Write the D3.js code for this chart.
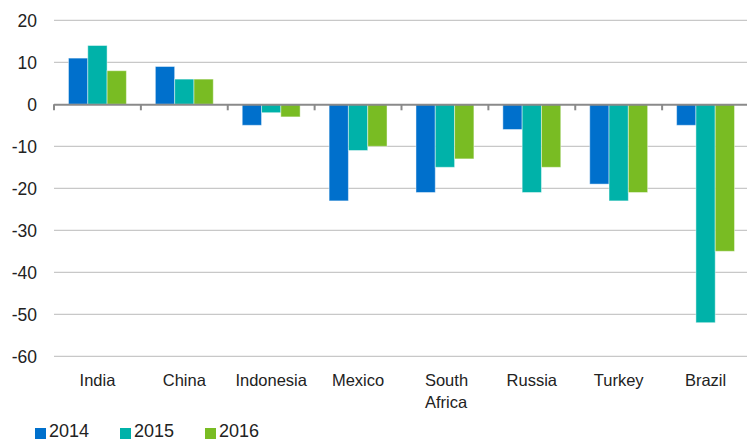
<!DOCTYPE html>
<html><head><meta charset="utf-8">
<script src="https://cdn.jsdelivr.net/npm/d3@7"></script>
<style>
body{margin:0;background:#fff;}
text{font-family:"Liberation Sans",Arial,Helvetica,sans-serif;fill:#222;}
</style></head>
<body><svg id="c" width="747" height="441"></svg>
<script>
const categories = ["India","China","Indonesia","Mexico","South\nAfrica","Russia","Turkey","Brazil"];
const seriesNames = ["2014","2015","2016"];
const values2014 = [11, 9, -5, -23, -21, -6, -19, -5];
const values2015 = [14, 6, -2, -11, -15, -21, -23, -52];
const values2016 = [8, 6, -3, -10, -13, -15, -21, -35];
const colors = ["#0070CC","#00B2A9","#79BC23"];
const yTicks = [20,10,0,-10,-20,-30,-40,-50,-60];

const series = [values2014, values2015, values2016];
const svg = d3.select("#c");
const x = d3.scaleBand().domain(d3.range(categories.length)).range([54, 749]).paddingInner(0).paddingOuter(0);
const inner = d3.scaleBand().domain(d3.range(3)).range([0, x.bandwidth()]).paddingInner(0).paddingOuter(0.75);
const y = d3.scaleLinear().domain([-60, 20]).range([356.3, 20.3]);

// grid
svg.append("g").selectAll("line").data(yTicks.filter(d=>d!==0)).join("line")
  .attr("x1",54).attr("x2",747).attr("y1",d=>y(d)).attr("y2",d=>y(d))
  .attr("stroke","#c8c8c8").attr("stroke-width",1.2);

// y labels
svg.append("g").selectAll("text").data(yTicks).join("text")
  .attr("x",37).attr("y",d=>y(d)).attr("dy","0.36em").attr("text-anchor","end")
  .style("font-size","17.5px").text(d=>d);

// bars
series.forEach((vals, si) => {
  svg.append("g").selectAll("rect").data(vals).join("rect")
    .attr("x",(d,i)=>x(i)+inner(si))
    .attr("width",inner.bandwidth())
    .attr("y",d=>Math.min(y(d),y(0)))
    .attr("height",d=>Math.abs(y(d)-y(0)))
    .attr("fill",colors[si])
    .attr("stroke","rgba(255,255,255,0.45)").attr("stroke-width",1);
});

// zero axis
const ax = svg.append("g");
ax.append("line").attr("x1",54).attr("x2",747).attr("y1",y(0)+0.5).attr("y2",y(0)+0.5)
  .attr("stroke","#8a8a8a").attr("stroke-width",2);
ax.selectAll("line.t").data(d3.range(categories.length+1)).join("line").attr("class","t")
  .attr("x1",i=>54+i*x.step()).attr("x2",i=>54+i*x.step())
  .attr("y1",y(0)).attr("y2",y(0)+6).attr("stroke","#8a8a8a").attr("stroke-width",2);

// x labels
const xl = svg.append("g").selectAll("text").data(categories).join("text")
  .attr("x",(d,i)=>x(i)+x.bandwidth()/2).attr("y",386).attr("text-anchor","middle")
  .style("font-size","16.5px");
xl.each(function(d){
  const lines = d.split("\n");
  const t = d3.select(this);
  lines.forEach((l,k)=>{
    t.append("tspan").attr("x",t.attr("x")).attr("dy",k===0?0:22).attr("text-anchor",lines.length>1?"start":"middle").text(l);
  });
  if(lines.length>1){ t.selectAll("tspan").attr("x", +t.attr("x") - 20); }
});

// legend
const lg = svg.append("g").selectAll("g").data(seriesNames).join("g")
  .attr("transform",(d,i)=>`translate(${35+i*85},0)`);
lg.append("rect").attr("x",0).attr("y",428).attr("width",11).attr("height",11).attr("fill",(d,i)=>colors[i]);
lg.append("text").attr("x",14).attr("y",437).style("font-size","18px").text(d=>d);
</script></body></html>
